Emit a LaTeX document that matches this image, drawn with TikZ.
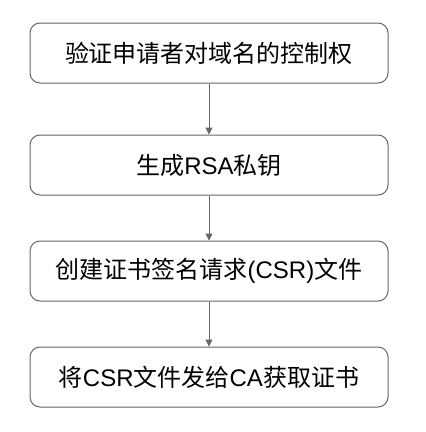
\documentclass[tikz,border=0pt]{standalone}
\usepackage{fontspec}
\setmainfont{Liberation Sans}
\newfontfamily\cjk{Noto Sans CJK SC}
\usetikzlibrary{arrows.meta}
\begin{document}
\begin{tikzpicture}[x=1pt,y=-1pt,
  stepbox/.style={draw=black!60,line width=1pt,rounded corners=10pt,minimum width=358pt,minimum height=60pt,inner sep=0pt,font=\fontsize{24}{28}\selectfont},
  conn/.style={draw=black!60,line width=1pt,-{Triangle[length=7pt,width=7pt]}}]
\useasboundingbox (0,0) rectangle (426,432);
\node[stepbox] (a) at (209,53) {\cjk 验证申请者对域名的控制权};
\node[stepbox] (b) at (209,165) {{\cjk 生成}RSA{\cjk 私钥}};
\node[stepbox] (c) at (209,271) {{\cjk 创建证书签名请求}(CSR){\cjk 文件}};
\node[stepbox] (d) at (209,377) {{\cjk 将}CSR{\cjk 文件发给}CA{\cjk 获取证书}};
\draw[conn] (a) -- (b);
\draw[conn] (b) -- (c);
\draw[conn] (c) -- (d);
\end{tikzpicture}
\end{document}
